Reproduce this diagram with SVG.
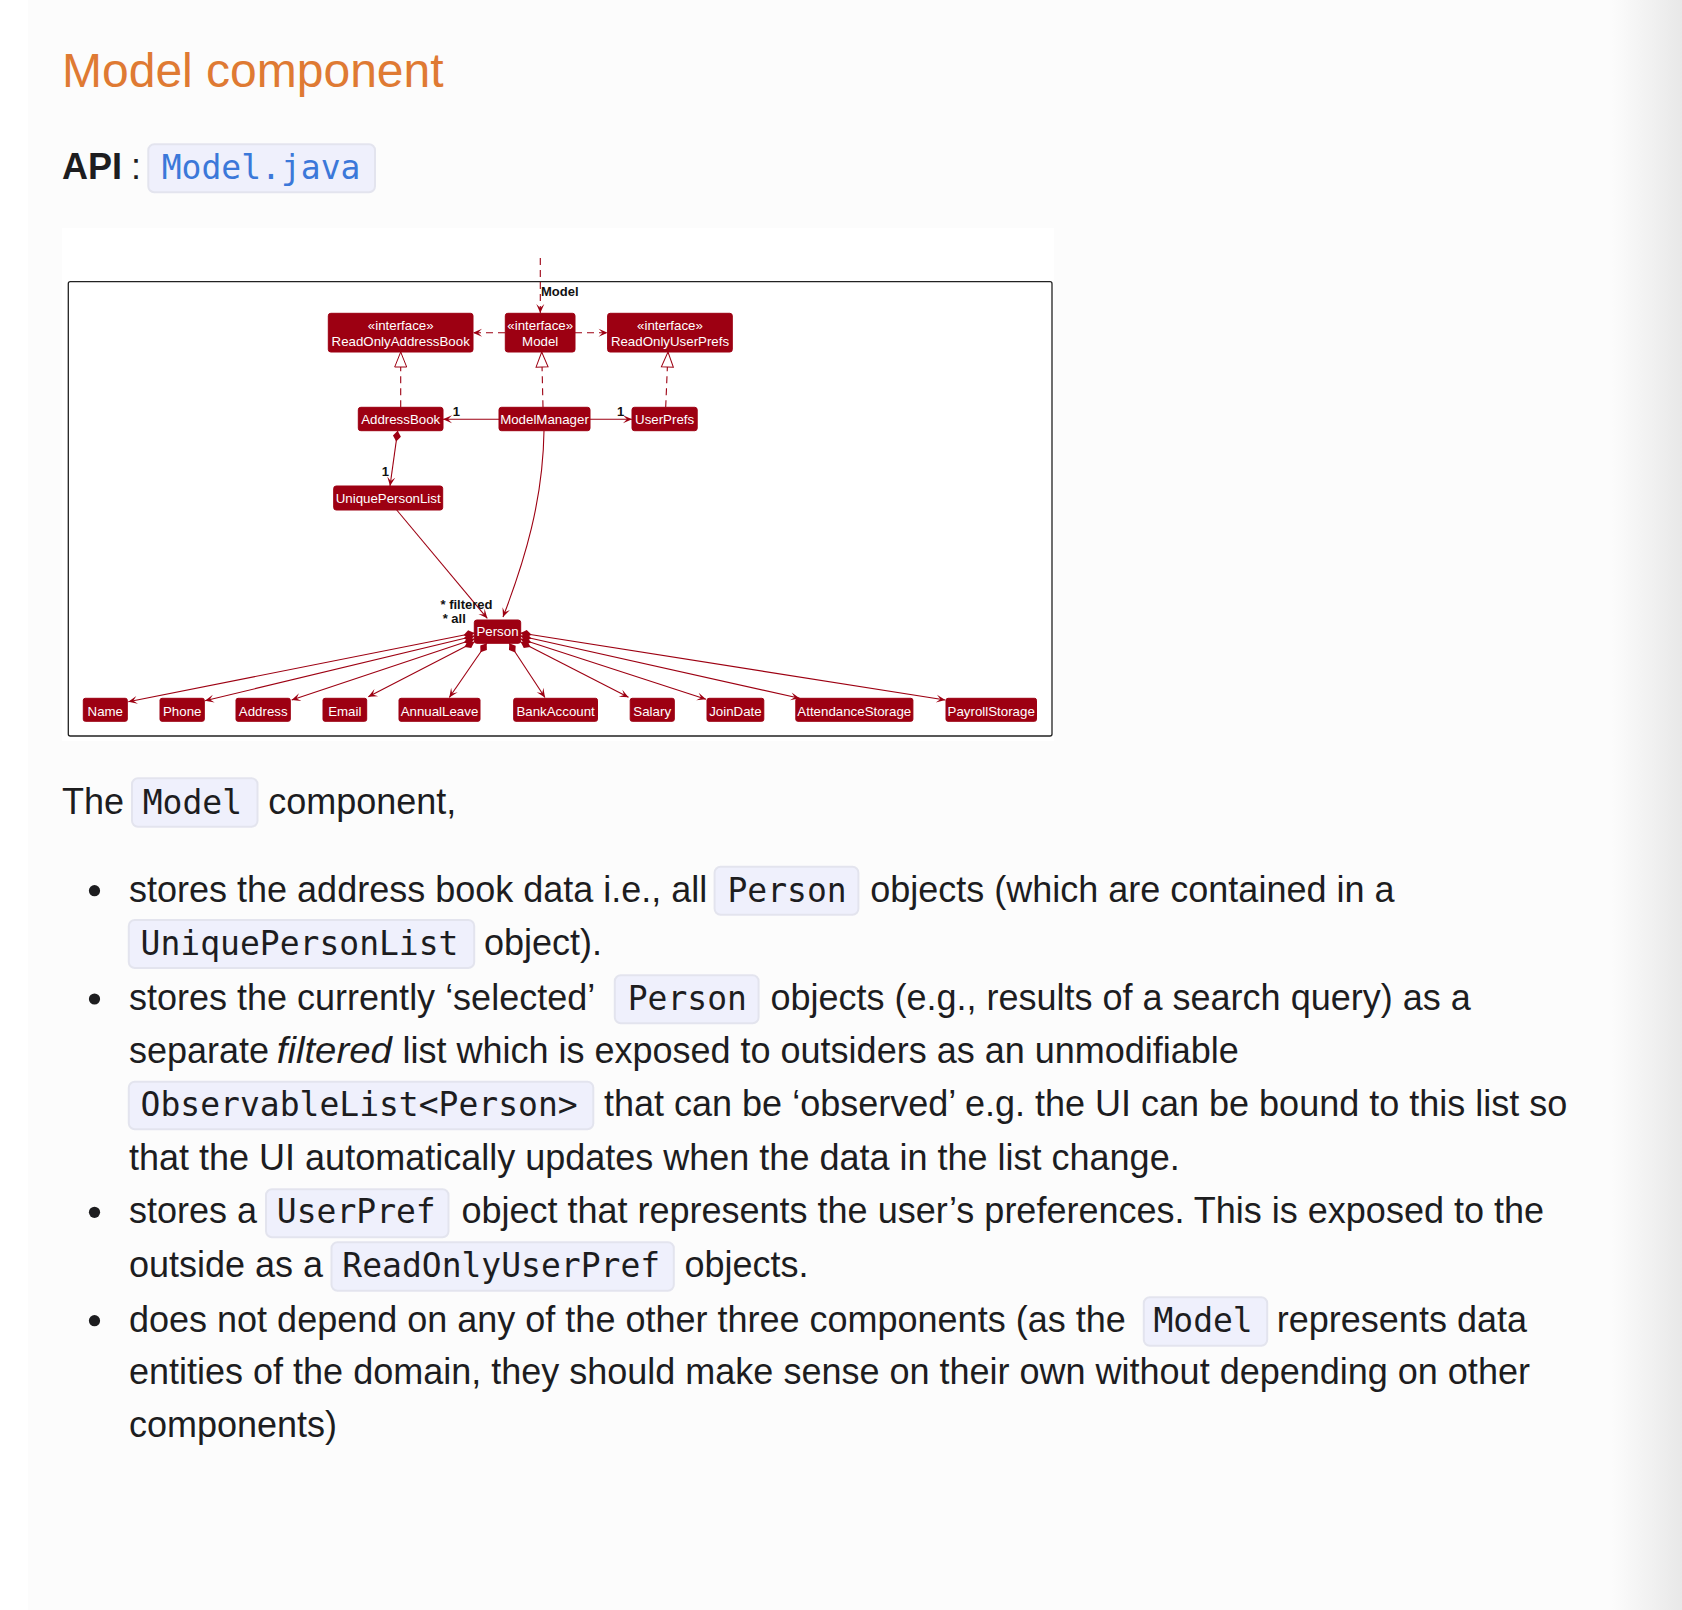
<svg xmlns="http://www.w3.org/2000/svg" width="1682" height="1610" viewBox="0 0 1682 1610">
<defs>
<linearGradient id="edge" x1="0" y1="0" x2="1" y2="0">
<stop offset="0" stop-color="#fcfcfc"/>
<stop offset="1" stop-color="#e8e8e8"/>
</linearGradient>
<marker id="arr" viewBox="-10 -5 11 10" refX="0" refY="0" markerWidth="11" markerHeight="10" markerUnits="userSpaceOnUse" orient="auto"><path d="M0,0 L-9,-4 L-5,0 L-9,4 Z" fill="#9D0012"/></marker>
<marker id="tri" viewBox="-17 -8 18 16" refX="0" refY="0" markerWidth="18" markerHeight="16" markerUnits="userSpaceOnUse" orient="auto"><path d="M0,0 L-15,-6 L-15,6 Z" fill="#ffffff" stroke="#9D0012" stroke-width="1"/></marker>
<marker id="dia" viewBox="-1 -5 13 10" refX="0" refY="0" markerWidth="13" markerHeight="10" markerUnits="userSpaceOnUse" orient="auto"><path d="M0,0 L5.5,-4 L11,0 L5.5,4 Z" fill="#9D0012"/></marker>
</defs>
<style>
.body{font-family:"Liberation Sans",Arial,sans-serif;font-size:36px;fill:#1d1d1f}
.code{font-family:"DejaVu Sans Mono","Liberation Mono",monospace;font-size:33px;fill:#1d1d1f}
.cbox{fill:#eff0fc;stroke:#e3e4ee;stroke-width:2}
.box{fill:#9D0012;stroke:#9D0012;stroke-width:1}
.bt{font-family:"Liberation Sans",Arial,sans-serif;font-size:13.3px;fill:#ffffff;text-anchor:middle}
.lbl{font-family:"Liberation Sans",Arial,sans-serif;font-size:13px;font-weight:bold;fill:#111}
.ln{fill:none;stroke:#9D0012;stroke-width:1.1}
.dash{stroke-dasharray:7,5}
</style>
<rect x="0" y="0" width="1682" height="1610" fill="#ffffff"/>
<rect x="28" y="0" width="1590" height="1610" fill="#fcfcfc"/>
<rect x="1612" y="0" width="70" height="1610" fill="url(#edge)"/>

<text x="62" y="87" font-family="Liberation Sans,Arial,sans-serif" font-size="48" fill="#df7a33">Model component</text>
<text x="62" y="179" class="body" font-weight="bold">API</text>
<text x="131" y="179" class="body">:</text>
<rect class="cbox" x="148.3" y="144.3" width="226.7" height="48" rx="6"/>
<text x="161.7" y="179" class="code" style="fill:#3b78d9">Model.java</text>

<rect x="62" y="228" width="992" height="513" fill="#ffffff"/>
<rect x="68.3" y="281.7" width="983.7" height="454.3" rx="2" fill="none" stroke="#222" stroke-width="1.3"/>

<g id="connectors">
<path class="ln dash" d="M540.3,258 L540.3,313" marker-end="url(#arr)"/>
<path class="ln dash" d="M505,332.7 L473,332.7" marker-end="url(#arr)"/>
<path class="ln dash" d="M575,332.7 L607.6,332.7" marker-end="url(#arr)"/>
<path class="ln dash" d="M400.7,407.3 L400.7,352" marker-end="url(#tri)"/>
<path class="ln dash" d="M543,407.3 L541.7,352" marker-end="url(#tri)"/>
<path class="ln dash" d="M665.7,407.3 L668,352" marker-end="url(#tri)"/>
<path class="ln" d="M499,419.3 L443,419.3" marker-end="url(#arr)"/>
<path class="ln" d="M590,419.3 L632,419.3" marker-end="url(#arr)"/>
<path class="ln" d="M397.7,430.7 L390,486" marker-start="url(#dia)" marker-end="url(#arr)"/>
<path class="ln" d="M396.7,510 L487.3,618.3" marker-end="url(#arr)"/>
<path class="ln" d="M544,430.7 C543,500 525,560 503,617" marker-end="url(#arr)"/>
<path class="ln" d="M474.3,633 L128.3,701.7" marker-start="url(#dia)" marker-end="url(#arr)"/>
<path class="ln" d="M474.3,636 L205,700.7" marker-start="url(#dia)" marker-end="url(#arr)"/>
<path class="ln" d="M474.3,639 L291.7,700" marker-start="url(#dia)" marker-end="url(#arr)"/>
<path class="ln" d="M474.3,642 L368.3,696.7" marker-start="url(#dia)" marker-end="url(#arr)"/>
<path class="ln" d="M486.7,643.3 L449.3,697.5" marker-start="url(#dia)" marker-end="url(#arr)"/>
<path class="ln" d="M509.3,643.3 L545,697.5" marker-start="url(#dia)" marker-end="url(#arr)"/>
<path class="ln" d="M520.7,642 L628.5,697.3" marker-start="url(#dia)" marker-end="url(#arr)"/>
<path class="ln" d="M520.7,639 L706,699.3" marker-start="url(#dia)" marker-end="url(#arr)"/>
<path class="ln" d="M520.7,636 L799.6,698.3" marker-start="url(#dia)" marker-end="url(#arr)"/>
<path class="ln" d="M520.7,633 L945.3,700" marker-start="url(#dia)" marker-end="url(#arr)"/>
<text class="lbl" x="541" y="295.5">Model</text>
<text class="lbl" x="452.7" y="415.7">1</text>
<text class="lbl" x="617" y="415.7">1</text>
<text class="lbl" x="381.7" y="475.7">1</text>
<text class="lbl" x="440.5" y="609">* filtered</text>
<text class="lbl" x="442.7" y="623.3">* all</text>
</g>

<g id="ReadOnlyAddressBook"><rect class="box" x="328.3" y="313.3" width="144.7" height="38.7" rx="2.5"/><text class="bt" x="400.7" y="329.5">«interface»</text><text class="bt" x="400.7" y="346">ReadOnlyAddressBook</text></g>
<g id="Model"><rect class="box" x="505.3" y="313.3" width="69.7" height="38.7" rx="2.5"/><text class="bt" x="540.2" y="329.5">«interface»</text><text class="bt" x="540.2" y="346">Model</text></g>
<g id="ReadOnlyUserPrefs"><rect class="box" x="607.6" y="313.3" width="124.7" height="38.7" rx="2.5"/><text class="bt" x="670" y="329.5">«interface»</text><text class="bt" x="670" y="346">ReadOnlyUserPrefs</text></g>
<g id="AddressBook"><rect class="box" x="358.3" y="407.3" width="84.7" height="23.4" rx="2.5"/><text class="bt" x="400.7" y="424">AddressBook</text></g>
<g id="ModelManager"><rect class="box" x="499" y="407.3" width="91" height="23.4" rx="2.5"/><text class="bt" x="544.5" y="424">ModelManager</text></g>
<g id="UserPrefs"><rect class="box" x="632" y="407.3" width="65.2" height="23.4" rx="2.5"/><text class="bt" x="664.6" y="424">UserPrefs</text></g>
<g id="UniquePersonList"><rect class="box" x="333.7" y="486" width="109" height="24" rx="2.5"/><text class="bt" x="388.2" y="503">UniquePersonList</text></g>
<g id="Person"><rect class="box" x="474.3" y="620" width="46.4" height="23.3" rx="2.5"/><text class="bt" x="497.5" y="636.3">Person</text></g>
<g id="Name"><rect class="box" x="83.3" y="698.3" width="44" height="23" rx="2"/><text class="bt" x="105.3" y="715.5">Name</text></g>
<g id="Phone"><rect class="box" x="160" y="698.3" width="44.3" height="23" rx="2"/><text class="bt" x="182.2" y="715.5">Phone</text></g>
<g id="Address"><rect class="box" x="236" y="698.3" width="54.3" height="23" rx="2"/><text class="bt" x="263.2" y="715.5">Address</text></g>
<g id="Email"><rect class="box" x="323" y="698.3" width="43.7" height="23" rx="2"/><text class="bt" x="344.8" y="715.5">Email</text></g>
<g id="AnnualLeave"><rect class="box" x="399" y="698.3" width="81" height="23" rx="2"/><text class="bt" x="439.5" y="715.5">AnnualLeave</text></g>
<g id="BankAccount"><rect class="box" x="513.7" y="698.3" width="83.8" height="23" rx="2"/><text class="bt" x="555.6" y="715.5">BankAccount</text></g>
<g id="Salary"><rect class="box" x="630.2" y="698.3" width="44.1" height="23" rx="2"/><text class="bt" x="652.2" y="715.5">Salary</text></g>
<g id="JoinDate"><rect class="box" x="707" y="698.3" width="56.8" height="23" rx="2"/><text class="bt" x="735.4" y="715.5">JoinDate</text></g>
<g id="AttendanceStorage"><rect class="box" x="795.8" y="698.3" width="117.1" height="23" rx="2"/><text class="bt" x="854.3" y="715.5">AttendanceStorage</text></g>
<g id="PayrollStorage"><rect class="box" x="946" y="698.3" width="90.5" height="23" rx="2"/><text class="bt" x="991.2" y="715.5">PayrollStorage</text></g>

<text x="62" y="814" class="body">The</text>
<rect class="cbox" x="132" y="778.3" width="125.5" height="48.4" rx="6"/>
<text x="142.7" y="814" class="code">Model</text>
<text x="268.2" y="814" class="body">component,</text>

<circle cx="94.5" cy="890.7" r="5.6" fill="#1d1d1f"/>
<text x="129" y="902" class="body">stores the address book data i.e., all</text>
<rect class="cbox" x="714.6" y="866.7" width="143.8" height="48" rx="6"/>
<text x="727.5" y="902" class="code">Person</text>
<text x="870.2" y="902" class="body">objects (which are contained in a</text>
<rect class="cbox" x="128.8" y="920" width="345.4" height="48" rx="6"/>
<text x="140.6" y="955" class="code">UniquePersonList</text>
<text x="483.9" y="955" class="body">object).</text>

<circle cx="94.5" cy="999" r="5.6" fill="#1d1d1f"/>
<text x="129" y="1010" class="body">stores the currently ‘selected’</text>
<rect class="cbox" x="614.8" y="975.3" width="143.8" height="48" rx="6"/>
<text x="627.7" y="1010" class="code">Person</text>
<text x="770.4" y="1010" class="body">objects (e.g., results of a search query) as a</text>
<text y="1063" class="body"><tspan x="129">separate</tspan><tspan x="276.8" font-style="italic" textLength="115" lengthAdjust="spacingAndGlyphs">filtered</tspan><tspan x="402.4">list which is exposed to outsiders as an unmodifiable</tspan></text>
<rect class="cbox" x="128.8" y="1081.7" width="464.5" height="47.6" rx="6"/>
<text x="140.6" y="1116" class="code">ObservableList&lt;Person&gt;</text>
<text x="604" y="1116" class="body">that can be ‘observed’ e.g. the UI can be bound to this list so</text>
<text x="129" y="1170" class="body">that the UI automatically updates when the data in the list change.</text>

<circle cx="94.5" cy="1212.3" r="5.6" fill="#1d1d1f"/>
<text x="129" y="1223.3" class="body">stores a</text>
<rect class="cbox" x="266" y="1189.3" width="182.5" height="48" rx="6"/>
<text x="276.8" y="1223.3" class="code">UserPref</text>
<text x="461.4" y="1223.3" class="body">object that represents the user’s preferences. This is exposed to the</text>
<text x="129" y="1276.7" class="body">outside as a</text>
<rect class="cbox" x="331.5" y="1242.3" width="342.3" height="48.4" rx="6"/>
<text x="342.3" y="1276.7" class="code">ReadOnlyUserPref</text>
<text x="684.5" y="1276.7" class="body">objects.</text>

<circle cx="94.5" cy="1320.7" r="5.6" fill="#1d1d1f"/>
<text x="129" y="1331.7" class="body">does not depend on any of the other three components (as the</text>
<rect class="cbox" x="1143.8" y="1297.3" width="123.4" height="48.4" rx="6"/>
<text x="1153.4" y="1331.7" class="code">Model</text>
<text x="1276.8" y="1331.7" class="body">represents data</text>
<text x="129" y="1384.3" class="body">entities of the domain, they should make sense on their own without depending on other</text>
<text x="129" y="1436.7" class="body">components)</text>
</svg>
